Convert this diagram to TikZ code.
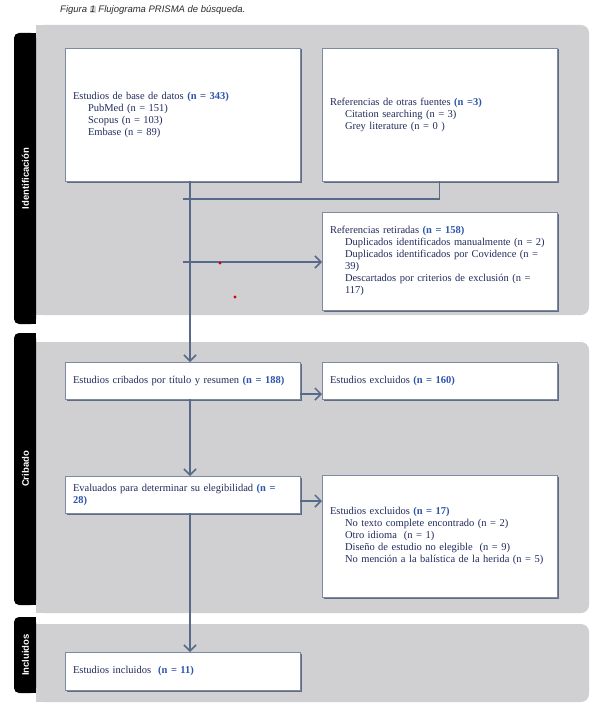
\documentclass[tikz,border=0pt]{standalone}
\usepackage{fontspec}
\setmainfont{Liberation Serif}
\setsansfont{Liberation Sans}
\usetikzlibrary{arrows.meta,shadows}
\definecolor{panelgray}{RGB}{208,207,209}
\definecolor{navytext}{RGB}{33,43,92}
\definecolor{numblue}{RGB}{45,84,172}
\definecolor{linec}{RGB}{88,106,138}
\definecolor{boxedge}{RGB}{125,138,162}
\definecolor{boxshadow}{RGB}{95,108,132}
\definecolor{hlgray}{RGB}{215,215,215}
\definecolor{titlec}{RGB}{45,45,45}
\newcommand{\nb}[1]{{\bfseries\color{numblue}#1}}
\newcommand{\ind}{\hspace*{15pt}}
\begin{document}
\begin{tikzpicture}[x=1pt,y=-1pt,
  panel/.style={fill=panelgray},
  tabfill/.style={fill=black},
  tablabel/.style={rotate=90, text=white, font=\sffamily\bfseries\fontsize{9.5}{10}\selectfont, inner sep=0pt},
  box/.style={draw=boxedge, line width=0.8pt, fill=white,
    drop shadow={shadow xshift=1.5pt, shadow yshift=-1.5pt, fill=boxshadow, opacity=1},
    inner xsep=8pt, inner ysep=0pt, outer sep=0pt, text width=219pt, align=left,
    text=navytext, font=\fontsize{10.5}{12}\selectfont},
  conn/.style={draw=linec, line width=1.5pt},
  arr/.style={conn, -{Straight Barb[length=6pt,width=12pt,line width=1.5pt]}},
  dot/.style={fill=red!85!black}
]
\useasboundingbox (0,0) rectangle (596,709);
\fill[white] (0,0) rectangle (596,709);

% title
\node[anchor=west, inner sep=0pt, text=titlec, font=\sffamily\itshape\fontsize{9.5}{11}\selectfont] (title) at (60,10)
  {Figura {\setlength\fboxsep{0.4pt}\colorbox{hlgray}{1}} Flujograma PRISMA de búsqueda.};

% panels
\fill[panel, rounded corners=8pt] (36,25) rectangle (589,315);
\fill[panel] (36,25) rectangle (60,315);
\fill[panel, rounded corners=8pt] (36,342) rectangle (589,613);
\fill[panel] (36,342) rectangle (60,613);
\fill[panel, rounded corners=8pt] (36,624) rectangle (589,702);
\fill[panel] (36,624) rectangle (60,702);

% tabs
\fill[tabfill, rounded corners=5pt] (14,33) rectangle (36,324);
\fill[tabfill] (28,33) rectangle (36,324);
\fill[tabfill, rounded corners=5pt] (14,333) rectangle (36,605);
\fill[tabfill] (28,333) rectangle (36,605);
\fill[tabfill, rounded corners=5pt] (14,617) rectangle (36,693);
\fill[tabfill] (28,617) rectangle (36,693);
\node[tablabel] (l1) at (25.5,178.5) {Identificación};
\node[tablabel] (l2) at (25.5,469) {Cribado};
\node[tablabel] (l3) at (25.5,655) {Incluidos};

% boxes
\node[box, minimum height=133pt] (b1) at (182.5,114.5)
  {Estudios de base de datos \nb{(n = 343)}\\
   \ind PubMed (n = 151)\\
   \ind Scopus (n = 103)\\
   \ind Embase (n = 89)};
\node[box, minimum height=133pt] (b2) at (439.5,114.5)
  {Referencias de otras fuentes \nb{(n =3)}\\
   \ind Citation searching (n = 3)\\
   \ind Grey literature (n = 0 )};
\node[box, minimum height=98pt] (b3) at (439.5,261)
  {Referencias retiradas \nb{(n = 158)}\\
   \ind Duplicados identificados manualmente (n = 2)\\
   \ind Duplicados identificados por Covidence (n =\\
   \ind 39)\\
   \ind Descartados por criterios de exclusión (n =\\
   \ind 117)};
\node[box, minimum height=37pt] (b4) at (182.5,380.5)
  {Estudios cribados por título y resumen \nb{(n = 188)}};
\node[box, minimum height=37pt] (b5) at (439.5,380.5)
  {Estudios excluidos \nb{(n = 160)}};
\node[box, minimum height=37pt] (b6) at (182.5,494.5)
  {Evaluados para determinar su elegibilidad \nb{(n =}\\
   \nb{28)}};
\node[box, minimum height=122pt] (b7) at (439.5,536)
  {Estudios excluidos \nb{(n = 17)}\\
   \ind No texto complete encontrado (n = 2)\\
   \ind Otro idioma~ (n = 1)\\
   \ind Diseño de estudio no elegible~ (n = 9)\\
   \ind No mención a la balística de la herida (n = 5)};
\node[box, minimum height=38pt] (b8) at (182.5,671)
  {Estudios incluidos~ \nb{(n = 11)}};

% connectors
\coordinate (m1) at (190,199);
\coordinate (h2) at (183,262);
\coordinate (a45) at (0,394);
\coordinate (a67) at (0,501);
\draw[conn] (b2.south) |- (183,199);
\draw[arr] (b1.south -| m1) -- (b4.north -| m1);
\draw[arr] (h2) -- (h2 -| b3.west);
\draw[arr] (b4.east |- a45) -- (b5.west |- a45);
\draw[arr] (b4.south -| m1) -- (b6.north -| m1);
\draw[arr] (b6.east |- a67) -- (b7.west |- a67);
\draw[arr] (b6.south -| m1) -- (b8.north -| m1);

% stray red dots
\fill[dot] (220,263) circle[radius=1.6pt];
\fill[dot] (235,297) circle[radius=1.6pt];
\end{tikzpicture}
\end{document}
